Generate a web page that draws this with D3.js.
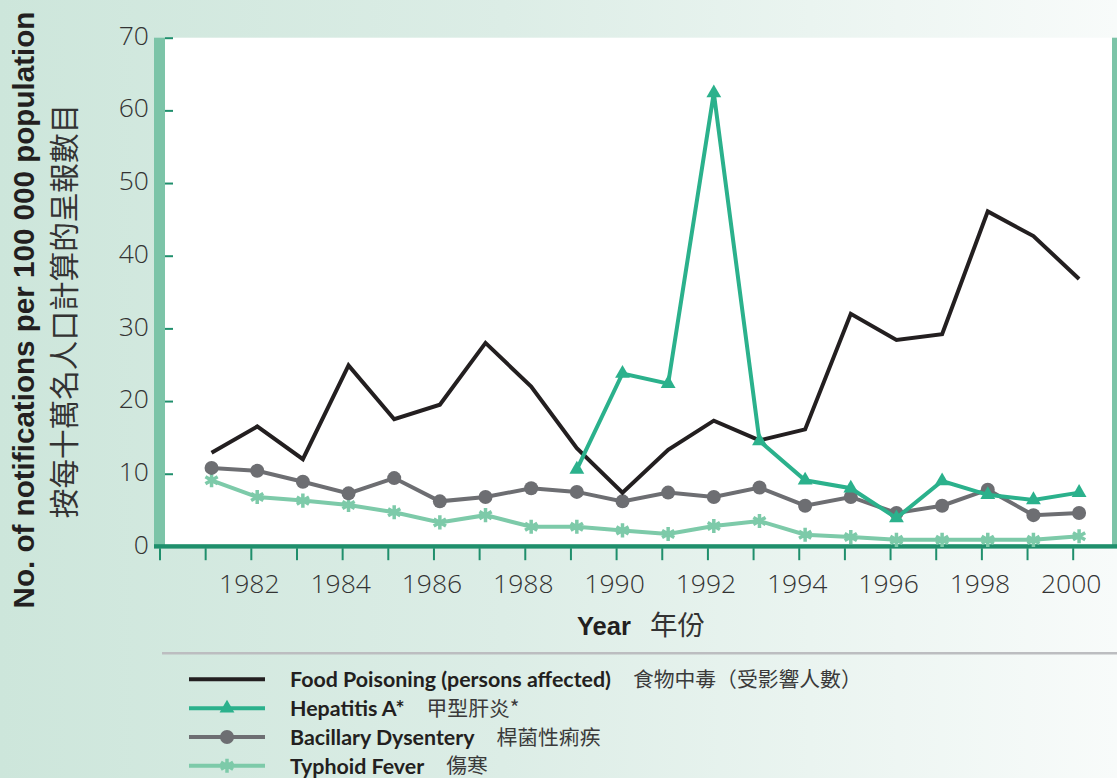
<!DOCTYPE html>
<html>
<head>
<meta charset="utf-8">
<script src="https://cdn.jsdelivr.net/npm/d3@7"></script>
<style>
  html, body { margin: 0; padding: 0; }
  body { width: 1117px; height: 778px; overflow: hidden; }
</style>
</head>
<body>
<svg id="chart" width="1117" height="778"></svg>
<script>
// ---------------- data ----------------
const years = [1981, 1982, 1983, 1984, 1985, 1986, 1987, 1988, 1989, 1990,
               1991, 1992, 1993, 1994, 1995, 1996, 1997, 1998, 1999, 2000];
const foodPoisoning = [12.9, 16.5, 12.0, 24.9, 17.5, 19.5, 28.0, 22.0, 13.5, 7.4,
                       13.3, 17.3, 14.6, 16.1, 32.0, 28.4, 29.2, 46.1, 42.7, 36.8];
const hepatitisA = [null, null, null, null, null, null, null, null, 10.6, 23.8,
                    22.4, 62.4, 14.5, 9.1, 8.0, 3.9, 9.0, 7.1, 6.4, 7.4];
const bacillaryDysentery = [10.8, 10.4, 8.9, 7.3, 9.4, 6.2, 6.8, 8.0, 7.5, 6.2,
                            7.4, 6.8, 8.1, 5.6, 6.8, 4.6, 5.6, 7.8, 4.3, 4.6];
const typhoidFever = [9.1, 6.8, 6.3, 5.7, 4.7, 3.3, 4.3, 2.7, 2.7, 2.2,
                      1.7, 2.8, 3.5, 1.6, 1.3, 0.9, 0.9, 0.9, 0.9, 1.4];
const xTickYears = [1980, 1981, 1982, 1983, 1984, 1985, 1986, 1987, 1988, 1989, 1990,
                    1991, 1992, 1993, 1994, 1995, 1996, 1997, 1998, 1999, 2000];
const xLabelYears = [1982, 1984, 1986, 1988, 1990, 1992, 1994, 1996, 1998, 2000];
const yTicks = [0, 10, 20, 30, 40, 50, 60, 70];

const seriesNamesEn = ["Food Poisoning (persons affected)", "Hepatitis A*", "Bacillary Dysentery", "Typhoid Fever"];
const seriesNamesZh = ["食物中毒（受影響人數）", "甲型肝炎*", "桿菌性痢疾", "傷寒"];
const yTitleEn = "No. of notifications per 100 000 population";
const yTitleZh = "按每十萬名人口計算的呈報數目";
const xTitleEn = "Year";
const xTitleZh = "年份";

// ---------------- styles ----------------
const COL_FOOD = "#231f20", COL_HEP = "#2bb18c", COL_BAC = "#6d6e72", COL_TYP = "#7dcaa9";
const COL_BAR = "#7cc4a8", COL_AXIS = "#1f8f6c";

const series = [
  { values: foodPoisoning, color: COL_FOOD, marker: null },
  { values: hepatitisA, color: COL_HEP, marker: "triangle" },
  { values: bacillaryDysentery, color: COL_BAC, marker: "circle" },
  { values: typhoidFever, color: COL_TYP, marker: "asterisk" }
];

const svg = d3.select("#chart");
const defs = svg.append("defs");
const grad = defs.append("linearGradient").attr("id", "bg").attr("x1", 0).attr("x2", 1).attr("y1", 0).attr("y2", 0);
grad.append("stop").attr("offset", "0%").attr("stop-color", "#cde6db");
grad.append("stop").attr("offset", "45%").attr("stop-color", "#dcede6");
grad.append("stop").attr("offset", "100%").attr("stop-color", "#f8fbfa");
svg.append("rect").attr("width", 1117).attr("height", 778).attr("fill", "url(#bg)");

// scales
const x = d3.scaleLinear().domain([1980, 2000]).range([159.5, 1072.7]);
const y = d3.scaleLinear().domain([0, 70]).range([546.4, 37.7]);
const pointShift = 0.14; // data points sit slightly right of the year ticks
const px = yr => x(yr + pointShift);

const plotLeft = 165, plotRight = 1112;

// plot area
svg.append("rect").attr("x", plotLeft).attr("y", y(70)).attr("width", plotRight - plotLeft)
  .attr("height", y(0) - y(70)).attr("fill", "#ffffff");
// left & right bars
svg.append("rect").attr("x", 154).attr("y", y(70)).attr("width", plotLeft - 154)
  .attr("height", y(0) - y(70)).attr("fill", COL_BAR);
svg.append("rect").attr("x", plotRight).attr("y", y(70)).attr("width", 1117 - plotRight)
  .attr("height", y(0) - y(70)).attr("fill", COL_BAR);

// y axis
const yAxis = d3.axisLeft(y).tickValues(yTicks).tickSizeInner(-8).tickSizeOuter(0).tickPadding(16);
const gy = svg.append("g").attr("transform", `translate(${plotLeft},0)`).call(yAxis);
gy.select(".domain").remove();
gy.selectAll(".tick line").attr("stroke", COL_AXIS).attr("stroke-width", 2);
gy.selectAll(".tick text")
  .attr("font-family", "'Open Sans', sans-serif").attr("font-weight", 300)
  .attr("font-size", 26.5).attr("fill", "#333").attr("dy", "0.25em");

// x axis
const xAxis = d3.axisBottom(x).tickValues(xTickYears).tickSizeInner(12).tickSizeOuter(0).tickPadding(14)
  .tickFormat(d => xLabelYears.includes(d) ? String(d) : "");
const gx = svg.append("g").attr("transform", `translate(0,${y(0) + 1.8})`).call(xAxis);
gx.select(".domain").remove();
gx.selectAll(".tick line").attr("stroke", COL_AXIS).attr("stroke-width", 2);
gx.selectAll(".tick text")
  .attr("font-family", "'Open Sans', sans-serif").attr("font-weight", 300)
  .attr("font-size", 26.5).attr("fill", "#333").attr("dx", "-2");
// thick bottom axis line
svg.append("rect").attr("x", 154).attr("y", y(0) - 2.2).attr("width", 1117 - 154).attr("height", 4.4)
  .attr("fill", COL_AXIS);

// lines
const lineGen = d3.line().defined(d => d.v != null).x(d => px(d.yr)).y(d => y(d.v));
const markerPath = (type, size) => {
  if (type === "triangle") return d3.symbol().type(d3.symbolTriangle).size(size || 95)();
  if (type === "asterisk") return d3.symbol().type(d3.symbolAsterisk).size(size || 140)();
  return null;
};

function drawMarker(g, type, color, cx, cy) {
  if (type === "circle") {
    g.append("circle").attr("cx", cx).attr("cy", cy).attr("r", 7).attr("fill", color);
  } else if (type === "triangle") {
    g.append("path").attr("d", markerPath("triangle")).attr("transform", `translate(${cx},${cy})`).attr("fill", color);
  } else if (type === "asterisk") {
    g.append("path").attr("d", markerPath("asterisk")).attr("transform", `translate(${cx},${cy})`)
      .attr("fill", "none").attr("stroke", color).attr("stroke-width", 3.5);
  }
}

const drawOrder = [3, 2, 0, 1];
drawOrder.forEach(i => {
  const s = series[i];
  const data = years.map((yr, k) => ({ yr, v: s.values[k] }));
  const g = svg.append("g");
  g.append("path").datum(data).attr("d", lineGen).attr("fill", "none")
    .attr("stroke", s.color).attr("stroke-width", 4).attr("stroke-linejoin", "miter");
  if (s.marker) {
    data.filter(d => d.v != null).forEach(d => drawMarker(g, s.marker, s.color, px(d.yr), y(d.v)));
  }
});

// y title
svg.append("text").attr("transform", "translate(34,310) rotate(-90)")
  .attr("text-anchor", "middle").attr("font-family", "'Liberation Sans', Arial, sans-serif")
  .attr("font-weight", 700).attr("font-size", 29.6).attr("fill", "#231f20").text(yTitleEn);
svg.append("text").attr("transform", "translate(75,311) rotate(-90)")
  .attr("text-anchor", "middle").attr("font-family", "'Noto Sans CJK TC', sans-serif")
  .attr("font-weight", 400).attr("font-size", 29.6).attr("fill", "#333").text(yTitleZh);

// x title
const xt = svg.append("text").attr("x", 577).attr("y", 635);
xt.append("tspan").attr("font-family", "'Liberation Sans', Arial, sans-serif").attr("font-weight", 700)
  .attr("font-size", 25.5).attr("fill", "#231f20").text(xTitleEn);
xt.append("tspan").attr("dx", 19).attr("font-family", "'Noto Sans CJK TC', sans-serif").attr("font-weight", 400)
  .attr("font-size", 27.5).attr("fill", "#333").text(xTitleZh);

// legend
svg.append("rect").attr("x", 162).attr("y", 652).attr("width", 1117 - 162).attr("height", 2.5).attr("fill", "#bcbdc0");
const legendRows = [679.3, 708.3, 737, 765.7];
series.forEach((s, i) => {
  const ly = legendRows[i];
  const g = svg.append("g");
  g.append("line").attr("x1", 189).attr("x2", 265).attr("y1", ly).attr("y2", ly)
    .attr("stroke", s.color).attr("stroke-width", 4);
  if (s.marker) drawMarker(g, s.marker, s.color, 227, ly);
  const t = g.append("text").attr("x", 290).attr("y", ly + 8)
    .attr("font-family", "Lato, sans-serif").attr("font-weight", 700).attr("font-size", 21.4)
    .attr("fill", "#231f20").text(seriesNamesEn[i]);
  const w = t.node().getComputedTextLength();
  g.append("text").attr("x", 290 + w + 22).attr("y", ly + 7.5)
    .attr("font-family", "'Noto Sans CJK TC', sans-serif").attr("font-weight", 400).attr("font-size", 20.8)
    .attr("fill", "#3a3a3a").text(seriesNamesZh[i]);
});
</script>
</body>
</html>
